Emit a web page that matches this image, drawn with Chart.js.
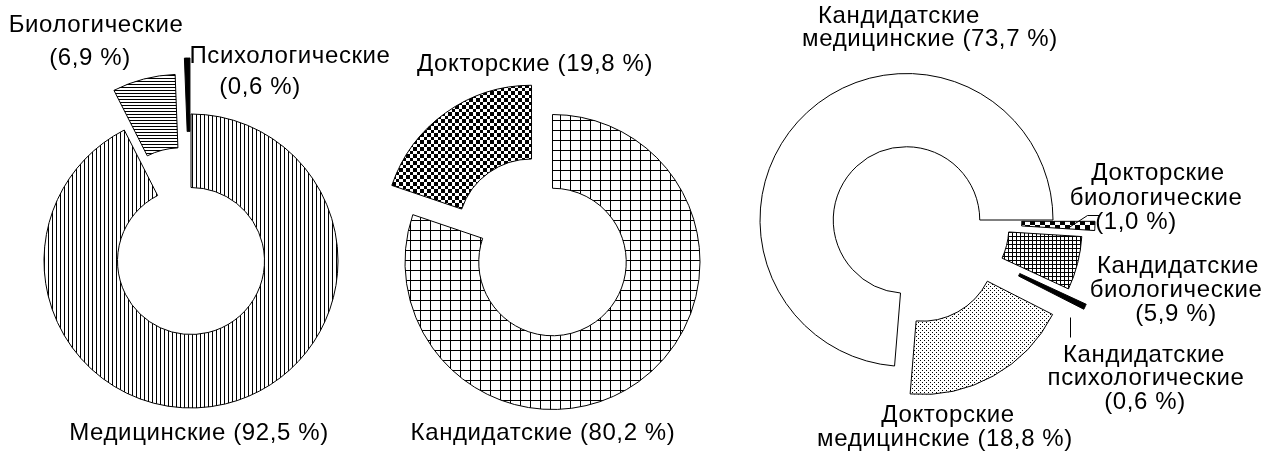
<!DOCTYPE html>
<html>
<head>
<meta charset="utf-8">
<script src="https://cdn.jsdelivr.net/npm/chart.js@4.4.1/dist/chart.umd.min.js"></script>
<style>
  html, body { margin: 0; padding: 0; background: #fff; }
  #wrap { position: relative; width: 1271px; height: 454px; background: #fff; }
  #wrap canvas { position: absolute; left: 0; top: 0; }
</style>
</head>
<body>
<div id="wrap">
  <canvas id="pie1" width="1271" height="454"></canvas>
  <canvas id="pie2" width="1271" height="454"></canvas>
  <canvas id="pie3" width="1271" height="454"></canvas>
</div>
<script>
// данные: профиль диссертаций
var labels1 = ['Медицинские', 'Биологические', 'Психологические'];
var values1 = [92.5, 6.9, 0.6];

// степень
var labels2 = ['Кандидатские', 'Докторские'];
var values2 = [80.2, 19.8];

// степень + профиль
var labels3 = ['Кандидатские медицинские', 'Докторские биологические', 'Кандидатские биологические',
               'Кандидатские психологические', 'Докторские медицинские'];
var values3 = [73.7, 1.0, 5.9, 0.6, 18.8];

var W = 1271, H = 454;
var FONT = '24px "Liberation Sans", Arial, sans-serif';

// "вынос" секторов как в Excel: простой сдвиг по биссектрисе сектора,
// без растягивания радиусов (встроенный offset сжимает узкие сектора)
class ExplodedDoughnut extends Chart.DoughnutController {
    updateElement(element, index, properties, mode) {
        var ex = this.getDataset().explode;
        if (ex && ex[index] && properties && properties.startAngle !== undefined) {
            var mid = (properties.startAngle + properties.endAngle) / 2;
            properties.x += Math.cos(mid) * ex[index];
            properties.y += Math.sin(mid) * ex[index];
        }
        super.updateElement(element, index, properties, mode);
    }
}
ExplodedDoughnut.id = 'explodedDoughnut';
ExplodedDoughnut.defaults = Chart.DoughnutController.defaults;
ExplodedDoughnut.overrides = Chart.DoughnutController.overrides;
Chart.register(ExplodedDoughnut);

// штриховки
function makePattern(w, h, draw) {
    var c = document.createElement('canvas');
    c.width = w; c.height = h;
    var g = c.getContext('2d');
    g.fillStyle = '#fff';
    g.fillRect(0, 0, w, h);
    g.fillStyle = '#000';
    draw(g, w, h);
    return g.createPattern(c, 'repeat');
}
var vLines = makePattern(4, 4, function(g) { g.fillRect(0, 0, 1, 4); });
var hLines = makePattern(3, 3, function(g) { g.fillRect(0, 0, 3, 1); });
var bigGrid = makePattern(10, 10, function(g) { g.fillRect(0, 0, 10, 1); g.fillRect(0, 0, 1, 10); });
var smallGrid = makePattern(4, 4, function(g) { g.fillRect(0, 0, 4, 1); g.fillRect(0, 0, 1, 4); });
var checker = makePattern(7, 7, function(g) { g.fillRect(0, 0, 4, 4); g.fillRect(4, 4, 3, 3); });
var bigChecker = makePattern(10, 10, function(g) { g.fillRect(0, 0, 5, 5); g.fillRect(5, 5, 5, 5); });
var dots = makePattern(4, 4, function(g) { g.fillRect(0, 0, 1, 1); g.fillRect(2, 2, 1, 1); });

function fmt(v) {
    return v.toFixed(1).replace('.', ',');
}

// где писать подписи (центр строки, базовая линия), по группам слов
var labelLayout = {
    pie1: [
        { index: 0, groups: [3], at: [[199, 440]] },
        { index: 1, groups: [1, 2], at: [[96, 32], [90, 65]] },
        { index: 2, groups: [1, 2], at: [[290, 63], [260, 94]] }
    ],
    pie2: [
        { index: 0, groups: [3], at: [[543, 440]] },
        { index: 1, groups: [3], at: [[535, 71]] }
    ],
    pie3: [
        { index: 0, groups: [1, 3], at: [[899, 23], [930, 46]] },
        { index: 1, groups: [1, 1, 2], at: [[1158, 180], [1156, 205], [1136, 229]],
          leader: [[1067, 228], [1087, 215], [1099, 215]] },
        { index: 2, groups: [1, 1, 2], at: [[1178, 273], [1176, 297], [1176, 321]] },
        { index: 3, groups: [1, 1, 2], at: [[1144, 362], [1146, 385], [1145, 409]],
          leader: [[1070, 317], [1070, 337]] },
        { index: 4, groups: [1, 3], at: [[948, 422], [945, 446]] }
    ]
};

var labelPlugin = {
    id: 'sliceLabels',
    afterDraw: function(chart) {
        var items = labelLayout[chart.canvas.id];
        var data = chart.data.datasets[0].data;
        var ctx = chart.ctx;
        ctx.save();
        ctx.font = FONT;
        ctx.letterSpacing = '0.6px';
        ctx.fillStyle = '#000';
        ctx.strokeStyle = '#000';
        ctx.lineWidth = 1;
        ctx.textAlign = 'center';
        ctx.textBaseline = 'alphabetic';
        items.forEach(function(it) {
            var words = (chart.data.labels[it.index] + ' (' + fmt(data[it.index]) + ' %)').split(' ');
            var k = 0;
            it.groups.forEach(function(n, li) {
                ctx.fillText(words.slice(k, k + n).join(' '), it.at[li][0], it.at[li][1]);
                k += n;
            });
            if (it.leader) {
                ctx.beginPath();
                it.leader.forEach(function(p, i) {
                    if (i === 0) ctx.moveTo(p[0] + 0.5, p[1] + 0.5);
                    else ctx.lineTo(p[0] + 0.5, p[1] + 0.5);
                });
                ctx.stroke();
            }
        });
        ctx.restore();
    }
};

function makeChart(id, labels, values, fills, explode, center, radius, rotation) {
    var d = Math.min(center[0], W - center[0], center[1], H - center[1]);
    return new Chart(document.getElementById(id), {
        type: 'explodedDoughnut',
        data: {
            labels: labels,
            datasets: [{
                data: values,
                backgroundColor: fills,
                borderColor: '#000',
                borderWidth: 1,
                borderJoinStyle: 'miter',
                explode: explode,
                hoverOffset: 0
            }]
        },
        options: {
            responsive: false,
            animation: false,
            events: [],
            radius: radius,
            cutout: '50%',
            rotation: rotation,
            layout: {
                padding: {
                    left: center[0] - d,
                    right: W - center[0] - d,
                    top: center[1] - d,
                    bottom: H - center[1] - d
                }
            },
            plugins: {
                legend: { display: false },
                tooltip: { enabled: false }
            }
        },
        plugins: [labelPlugin]
    });
}

var total3 = values3.reduce(function(a, b) { return a + b; }, 0);

makeChart('pie1', labels1, values1, [vLines, hLines, '#000'], [0, 41, 56], [191, 261], 147, 0);
makeChart('pie2', labels2, values2, [bigGrid, checker], [0, 36], [552.5, 262], 147.5, 0);
makeChart('pie3', labels3, values3, ['#fff', bigChecker, smallGrid, '#000', dots],
          [0, 42, 30, 52, 32], [906.5, 220], 146.5, 90 - values3[0] / total3 * 360);
</script>
</body>
</html>
